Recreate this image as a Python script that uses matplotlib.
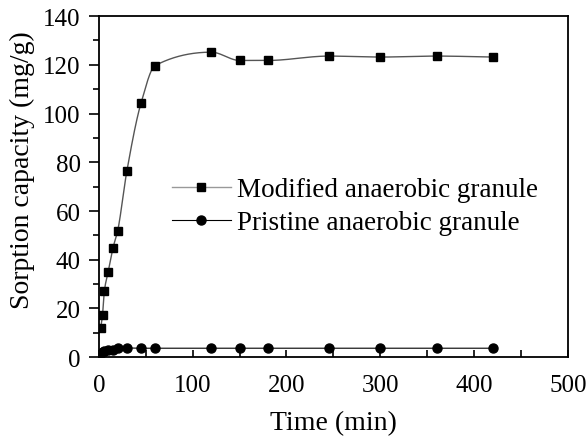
import numpy as np
import matplotlib
matplotlib.use("Agg")
import matplotlib.pyplot as plt
from matplotlib.ticker import MultipleLocator

# datos
time_min = [2, 4, 6, 10, 15, 20, 30, 45, 60, 120, 150, 180, 245, 300, 360, 420]
modified = [11.9, 17.4, 27.3, 35.1, 44.7, 51.7, 76.6, 104.3, 119.7, 125.2,
            121.8, 121.8, 123.6, 123.2, 123.6, 123.2]
pristine = [1.6, 2.0, 2.4, 2.8, 3.1, 3.6, 3.8, 3.7, 3.7, 3.7,
            3.7, 3.7, 3.7, 3.7, 3.7, 3.7]

label_mod = "Modified anaerobic granule"
label_pri = "Pristine anaerobic granule"


def pchip(x, y, xs):
    """Interpolación cúbica monótona (PCHIP), sin scipy."""
    x = np.asarray(x, float)
    y = np.asarray(y, float)
    h = np.diff(x)
    d = np.diff(y) / h
    n = len(x)
    m = np.zeros(n)
    for k in range(1, n - 1):
        if d[k - 1] * d[k] > 0:
            w1 = 2 * h[k] + h[k - 1]
            w2 = h[k] + 2 * h[k - 1]
            m[k] = (w1 + w2) / (w1 / d[k - 1] + w2 / d[k])
    m[0] = d[0]
    m[-1] = d[-1]
    idx = np.clip(np.searchsorted(x, xs) - 1, 0, n - 2)
    t = (xs - x[idx]) / h[idx]
    h00 = 2 * t**3 - 3 * t**2 + 1
    h10 = t**3 - 2 * t**2 + t
    h01 = -2 * t**3 + 3 * t**2
    h11 = t**3 - t**2
    return (h00 * y[idx] + h10 * h[idx] * m[idx]
            + h01 * y[idx + 1] + h11 * h[idx] * m[idx + 1])


plt.rcParams["font.family"] = ["Liberation Serif", "DejaVu Serif"]

fig = plt.figure(figsize=(5.88, 4.39), dpi=100)
ax = fig.add_axes([0.168, 0.184, 0.798, 0.777])

xs = np.linspace(time_min[0], time_min[-1], 800)
ax.plot(xs, pchip(time_min, modified, xs), color="#555555", lw=1.0)
ax.plot(time_min, modified, "s", color="black", ms=6)
ax.plot(time_min, pristine, "-o", color="black", lw=0.8, ms=6.5)

# leyenda a mano para imitar el estilo original
h1, = ax.plot([], [], "-s", color="#999999", ms=6, lw=1.0,
              mfc="black", mec="black")
h2, = ax.plot([], [], "-o", color="black", ms=6.5, lw=0.8)
ax.legend([h1, h2], [label_mod, label_pri], loc="upper left",
          bbox_to_anchor=(0.132, 0.56), frameon=False, fontsize=19.5,
          handlelength=2.2, handletextpad=0.2, labelspacing=0.3,
          borderaxespad=0)

ax.set_xlim(0, 500)
ax.set_ylim(0, 140)
ax.xaxis.set_major_locator(MultipleLocator(100))
ax.xaxis.set_minor_locator(MultipleLocator(50))
ax.yaxis.set_major_locator(MultipleLocator(20))
ax.yaxis.set_minor_locator(MultipleLocator(10))
ax.tick_params(axis="x", which="both", direction="in", labelsize=18,
               pad=12, length=5, width=1.2)
ax.tick_params(axis="y", which="major", direction="out", labelsize=18,
               pad=6, length=7, width=1.2)
ax.tick_params(axis="y", which="minor", direction="out", length=4, width=1.2)
for sp in ax.spines.values():
    sp.set_linewidth(1.3)

ax.set_xlabel("Time (min)", fontsize=20, labelpad=10)
ax.set_ylabel("Sorption capacity (mg/g)", fontsize=20)
ax.yaxis.set_label_coords(-0.137, 0.55)

fig.savefig("out.png", dpi=100)
